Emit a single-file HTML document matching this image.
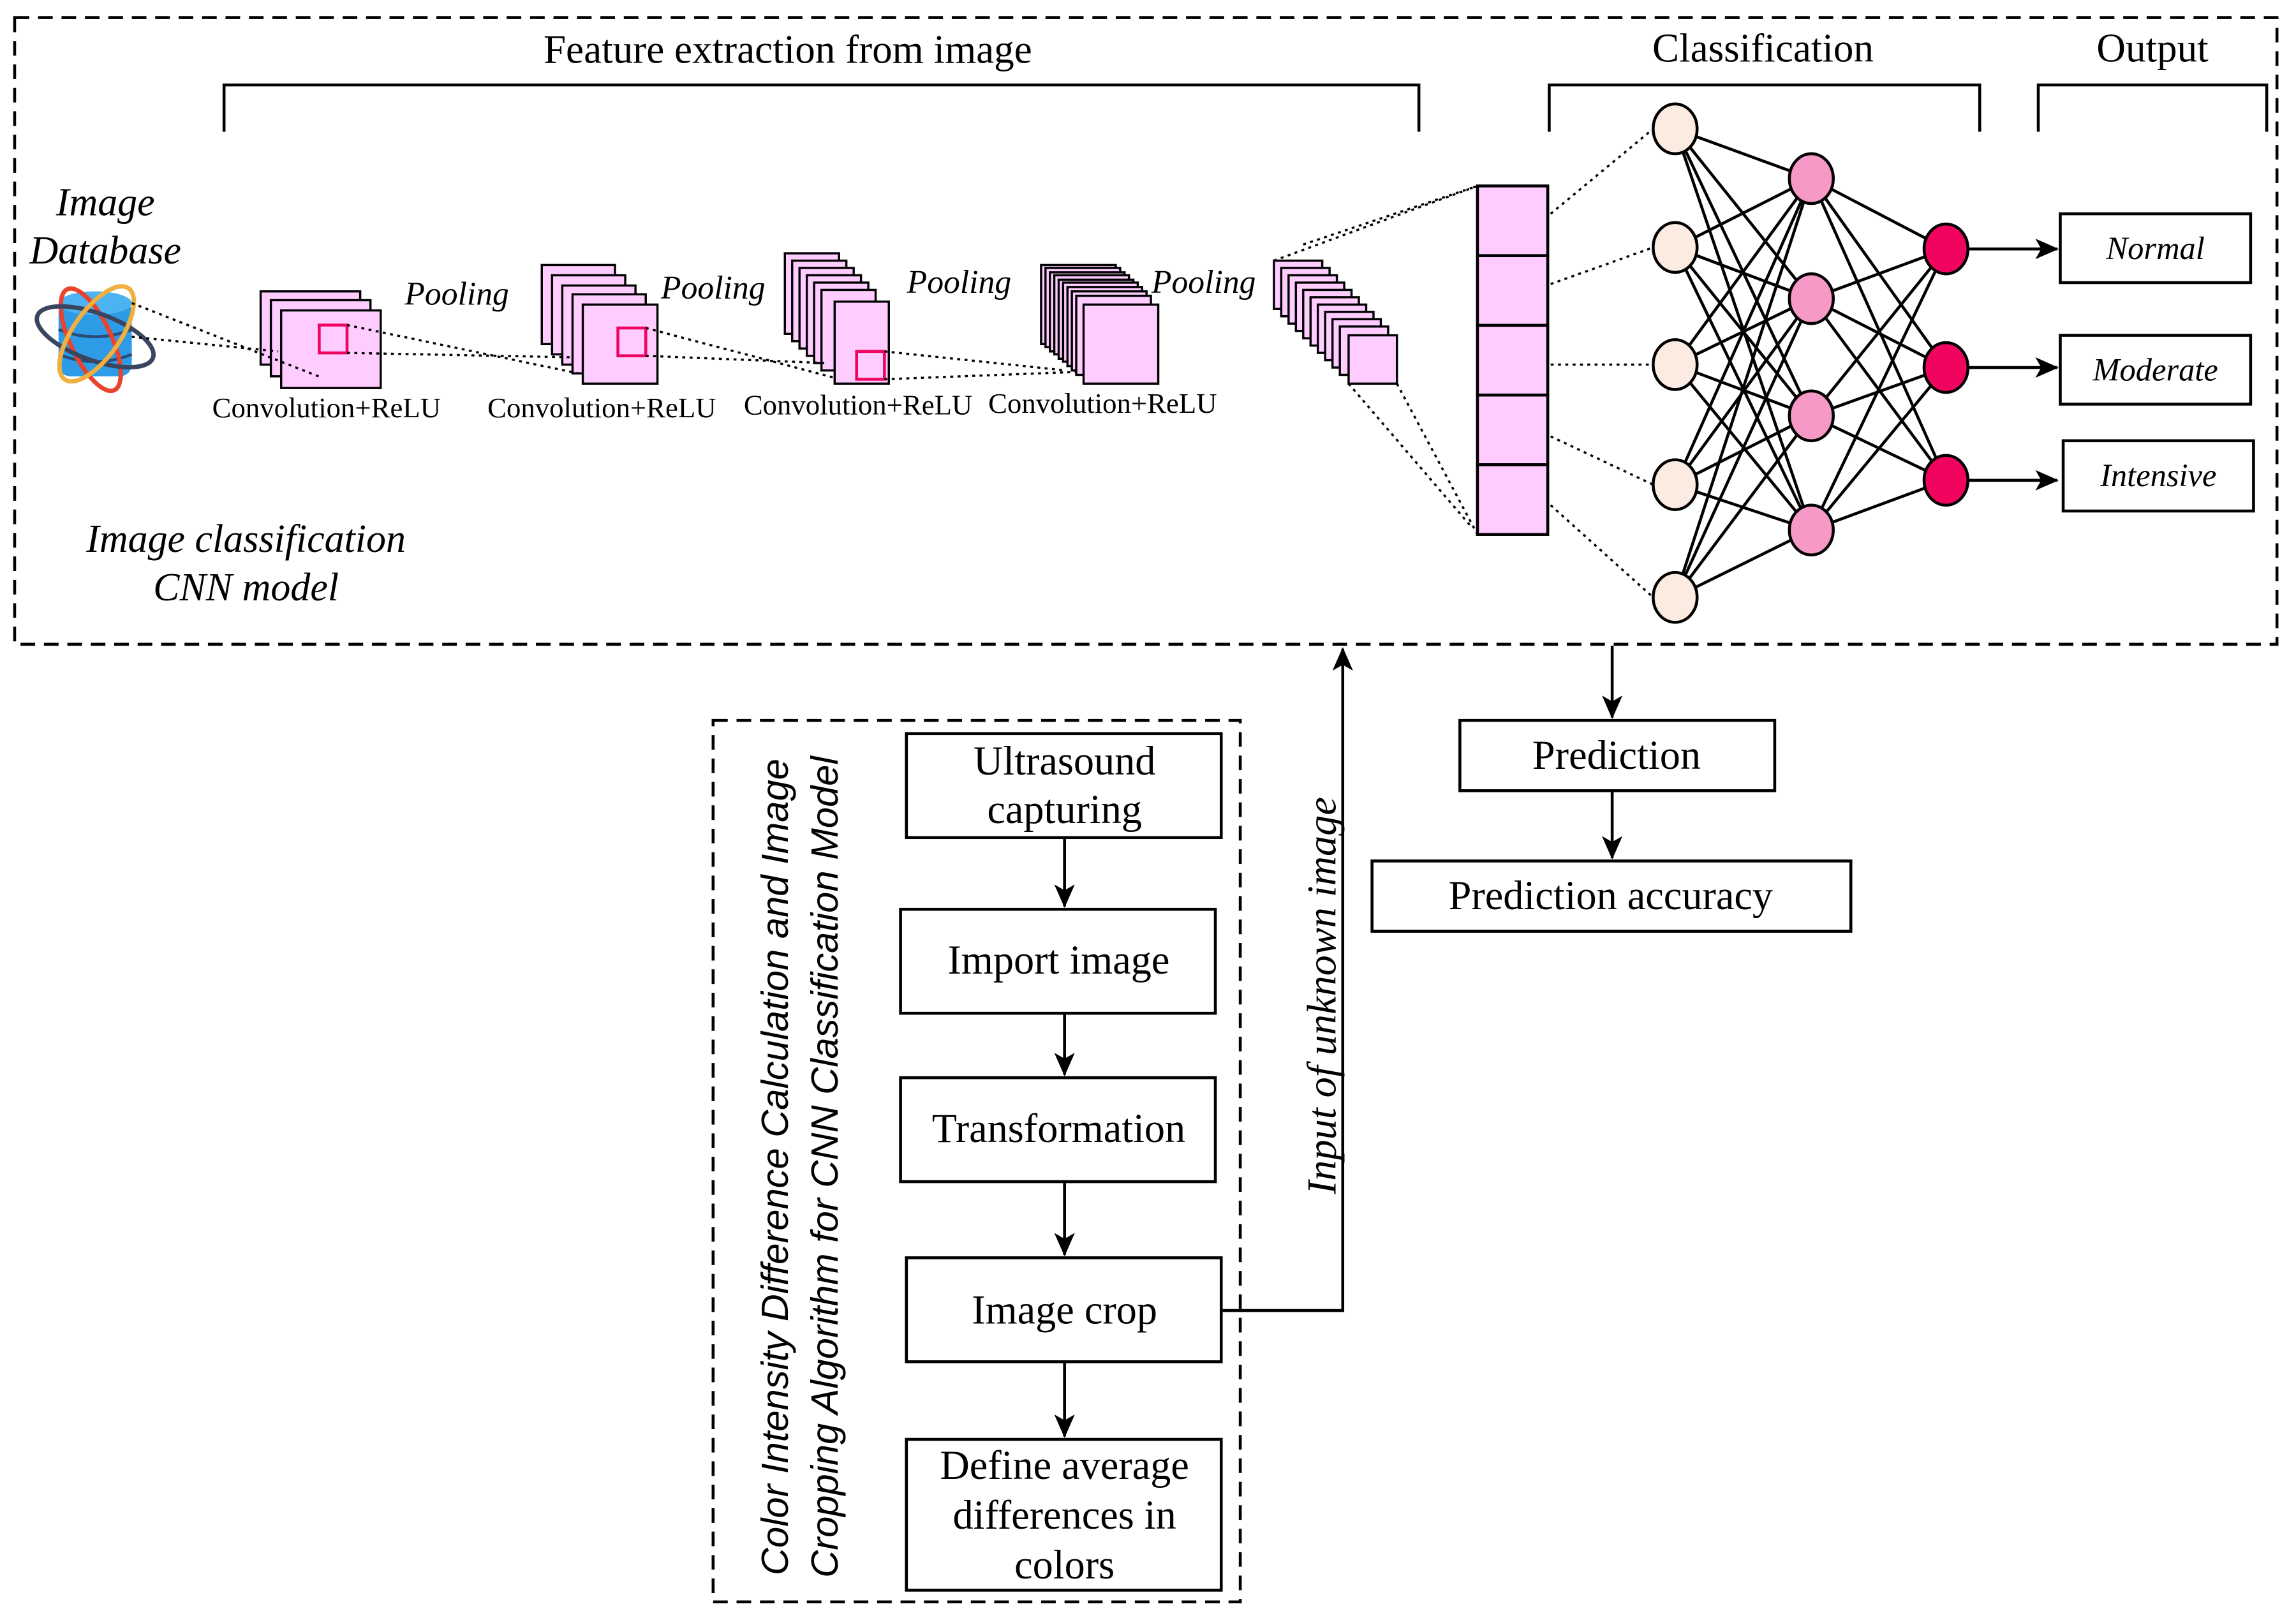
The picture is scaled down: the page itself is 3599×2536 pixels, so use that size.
<!DOCTYPE html>
<html><head><meta charset="utf-8"><style>html,body{margin:0;padding:0;background:#fff}svg{display:block}</style></head>
<body>
<svg width="3599" height="2536" viewBox="0 0 1568 1105" preserveAspectRatio="none" xmlns="http://www.w3.org/2000/svg" font-family="'Liberation Serif',serif">
<defs><marker id="ah2" markerWidth="16" markerHeight="14" refX="15" refY="7" orient="auto" markerUnits="userSpaceOnUse"><path d="M0,0 L16,7 L0,14 L4,7 Z" fill="#000"/></marker></defs>
<rect width="1568" height="1105" fill="#fff"/>
<rect x="10" y="12" width="1545" height="428" fill="none" stroke="#000" stroke-width="2" stroke-dasharray="10,6"/>
<g stroke="#000" stroke-width="2" fill="none">
<path d="M153,90 V58 H969 V90"/><path d="M1058,90 V58 H1352 V90"/><path d="M1392,90 V58 H1548 V90"/></g>
<g font-size="27.5" text-anchor="middle"><text x="538" y="43">Feature extraction from image</text><text x="1204" y="42">Classification</text><text x="1470" y="42">Output</text></g>
<g font-size="27" font-style="italic" text-anchor="middle"><text x="72" y="147">Image</text><text x="72" y="180">Database</text>
<text x="168" y="377">Image classification</text><text x="168" y="410">CNN model</text></g>
<g><rect x="40" y="205" width="50" height="52" rx="8" fill="#2e9be6"/><ellipse cx="65" cy="207" rx="25" ry="8" fill="#4cb3f2"/>
<path d="M40,225 Q65,235 90,225 M40,242 Q65,252 90,242" stroke="#2a4d7a" stroke-width="2" fill="none"/>
<ellipse cx="62" cy="232" rx="14" ry="38" transform="rotate(-25 62 232)" fill="none" stroke="#e8432c" stroke-width="3"/>
<ellipse cx="65" cy="230" rx="42" ry="16" transform="rotate(20 65 230)" fill="none" stroke="#3a4560" stroke-width="3"/>
<ellipse cx="66" cy="228" rx="16" ry="38" transform="rotate(35 66 228)" fill="none" stroke="#f0b040" stroke-width="3"/></g>
<g fill="#ffccff" stroke="#000" stroke-width="1.5">
<rect x="178" y="199" width="68" height="50"/><rect x="185" y="205" width="68" height="52"/><rect x="192" y="212" width="68" height="53"/>
<rect x="370" y="181" width="50" height="54"/><rect x="377" y="188" width="50" height="54"/><rect x="384" y="195" width="50" height="54"/><rect x="391" y="201" width="50" height="54"/><rect x="398" y="208" width="51" height="54"/>
<rect x="536" y="173" width="37" height="55"/><rect x="541" y="178" width="37" height="55"/><rect x="546" y="183" width="37" height="55"/><rect x="551" y="188" width="37" height="55"/><rect x="556" y="193" width="37" height="55"/><rect x="561" y="198" width="37" height="55"/><rect x="570" y="206" width="37" height="56"/>
<rect x="711" y="181" width="51" height="54"/><rect x="714" y="183" width="51" height="54"/><rect x="717" y="186" width="51" height="54"/><rect x="720" y="188" width="51" height="54"/><rect x="723" y="191" width="51" height="54"/><rect x="726" y="193" width="51" height="54"/><rect x="729" y="196" width="51" height="54"/><rect x="732" y="199" width="51" height="54"/><rect x="735" y="202" width="51" height="54"/><rect x="740" y="208" width="51" height="54"/>
<rect x="870" y="178" width="33" height="33"/><rect x="875" y="183" width="33" height="33"/><rect x="880" y="188" width="33" height="33"/><rect x="885" y="193" width="33" height="33"/><rect x="890" y="198" width="33" height="33"/><rect x="895" y="203" width="33" height="33"/><rect x="900" y="208" width="33" height="33"/><rect x="905" y="213" width="33" height="33"/><rect x="910" y="218" width="33" height="33"/><rect x="915" y="223" width="33" height="33"/><rect x="921" y="229" width="33" height="33"/>
</g>
<g fill="none" stroke="#f0045f" stroke-width="2"><rect x="218" y="222" width="19" height="19"/><rect x="422" y="224" width="19" height="19"/><rect x="585" y="240" width="19" height="19"/></g>
<g stroke="#000" stroke-width="1.5" stroke-dasharray="2,3" fill="none">
<path d="M90,207 L220,258 M90,230 L190,240"/>
<path d="M237,222 L395,255 M237,241 L390,244"/>
<path d="M441,224 L570,258 M441,243 L565,248"/>
<path d="M604,240 L728,253 M604,259 L735,254"/>
<path d="M870,178 L1009,127 M890,167 L1009,127 M954,262 L1009,365 M921,262 L1005,360"/>
<path d="M1059,146 L1129,88 M1059,194 L1129,169 M1059,249 L1129,249 M1059,298 L1129,331 M1059,345 L1129,408"/>
</g>
<g fill="#ffccff" stroke="#000" stroke-width="2"><rect x="1009" y="127" width="48" height="47.6"/><rect x="1009" y="174.6" width="48" height="47.6"/><rect x="1009" y="222.2" width="48" height="47.6"/><rect x="1009" y="269.8" width="48" height="47.6"/><rect x="1009" y="317.4" width="48" height="47.6"/></g>
<g font-size="19.5" text-anchor="middle"><text x="223" y="285">Convolution+ReLU</text><text x="411" y="285">Convolution+ReLU</text><text x="586" y="283">Convolution+ReLU</text><text x="753" y="282">Convolution+ReLU</text></g>
<g font-size="22.5" font-style="italic" text-anchor="middle"><text x="312" y="208">Pooling</text><text x="487" y="204">Pooling</text><text x="655" y="200">Pooling</text><text x="822" y="200">Pooling</text></g>
<g stroke="#000" stroke-width="2">
<path d="M1144,88L1237,122M1144,88L1237,204M1144,88L1237,284M1144,88L1237,362
M1144,169L1237,122M1144,169L1237,204M1144,169L1237,284M1144,169L1237,362
M1144,249L1237,122M1144,249L1237,204M1144,249L1237,284M1144,249L1237,362
M1144,331L1237,122M1144,331L1237,204M1144,331L1237,284M1144,331L1237,362
M1144,408L1237,122M1144,408L1237,204M1144,408L1237,284M1144,408L1237,362
M1237,122L1329,170M1237,122L1329,251M1237,122L1329,328
M1237,204L1329,170M1237,204L1329,251M1237,204L1329,328
M1237,284L1329,170M1237,284L1329,251M1237,284L1329,328
M1237,362L1329,170M1237,362L1329,251M1237,362L1329,328"/></g>
<g stroke="#000" stroke-width="2"><g fill="#fcebe0"><ellipse cx="1144" cy="88" rx="15" ry="17"/><ellipse cx="1144" cy="169" rx="15" ry="17"/><ellipse cx="1144" cy="249" rx="15" ry="17"/><ellipse cx="1144" cy="331" rx="15" ry="17"/><ellipse cx="1144" cy="408" rx="15" ry="17"/></g>
<g fill="#f799c6"><ellipse cx="1237" cy="122" rx="15" ry="17"/><ellipse cx="1237" cy="204" rx="15" ry="17"/><ellipse cx="1237" cy="284" rx="15" ry="17"/><ellipse cx="1237" cy="362" rx="15" ry="17"/></g>
<g fill="#f0045f"><ellipse cx="1329" cy="170" rx="15" ry="17"/><ellipse cx="1329" cy="251" rx="15" ry="17"/><ellipse cx="1329" cy="328" rx="15" ry="17"/></g></g>
<g stroke="#000" stroke-width="2" marker-end="url(#ah2)"><line x1="1344" y1="170" x2="1405" y2="170"/><line x1="1344" y1="251" x2="1405" y2="251"/><line x1="1344" y1="328" x2="1405" y2="328"/></g>
<g fill="#fff" stroke="#000" stroke-width="2"><rect x="1407" y="146" width="130" height="47"/><rect x="1407" y="229" width="130" height="47"/><rect x="1409" y="301" width="130" height="48"/></g>
<g font-size="22" font-style="italic" text-anchor="middle"><text x="1472" y="177">Normal</text><text x="1472" y="260">Moderate</text><text x="1474" y="332">Intensive</text></g>
<g stroke="#000" stroke-width="2" fill="none">
<line x1="1101" y1="441" x2="1101" y2="490" marker-end="url(#ah2)"/>
<line x1="1101" y1="541" x2="1101" y2="586" marker-end="url(#ah2)"/>
<path d="M835,895 H917 V443" marker-end="url(#ah2)"/>
<rect x="997" y="492" width="215" height="48" fill="#fff"/><rect x="937" y="588" width="327" height="48" fill="#fff"/>
<rect x="487" y="492" width="360" height="602" stroke-dasharray="10,6"/>
<rect x="619" y="501" width="215" height="71" fill="#fff"/><rect x="615" y="621" width="215" height="71" fill="#fff"/><rect x="615" y="736" width="215" height="71" fill="#fff"/><rect x="619" y="859" width="215" height="71" fill="#fff"/><rect x="619" y="983" width="215" height="103" fill="#fff"/>
<line x1="727" y1="572" x2="727" y2="619" marker-end="url(#ah2)"/><line x1="727" y1="692" x2="727" y2="734" marker-end="url(#ah2)"/><line x1="727" y1="807" x2="727" y2="857" marker-end="url(#ah2)"/><line x1="727" y1="930" x2="727" y2="981" marker-end="url(#ah2)"/>
</g>
<g font-size="28" text-anchor="middle"><text x="1104" y="525">Prediction</text><text x="1100" y="621">Prediction accuracy</text>
<text x="727" y="529">Ultrasound</text><text x="727" y="562">capturing</text><text x="723" y="665">Import image</text><text x="723" y="780">Transformation</text><text x="727" y="904">Image crop</text>
<text x="727" y="1010">Define average</text><text x="727" y="1044">differences in</text><text x="727" y="1078">colors</text></g>
<g font-style="italic" text-anchor="middle">
<text font-size="28" transform="translate(912,680) rotate(-90)">Input of unknown image</text>
<text font-family="'Liberation Sans',sans-serif" font-size="26" transform="translate(538,797) rotate(-90)">Color Intensity Difference Calculation and Image</text>
<text font-family="'Liberation Sans',sans-serif" font-size="26" transform="translate(572,797) rotate(-90)">Cropping Algorithm for CNN Classification Model</text>
</g>
</svg>
</body></html>
